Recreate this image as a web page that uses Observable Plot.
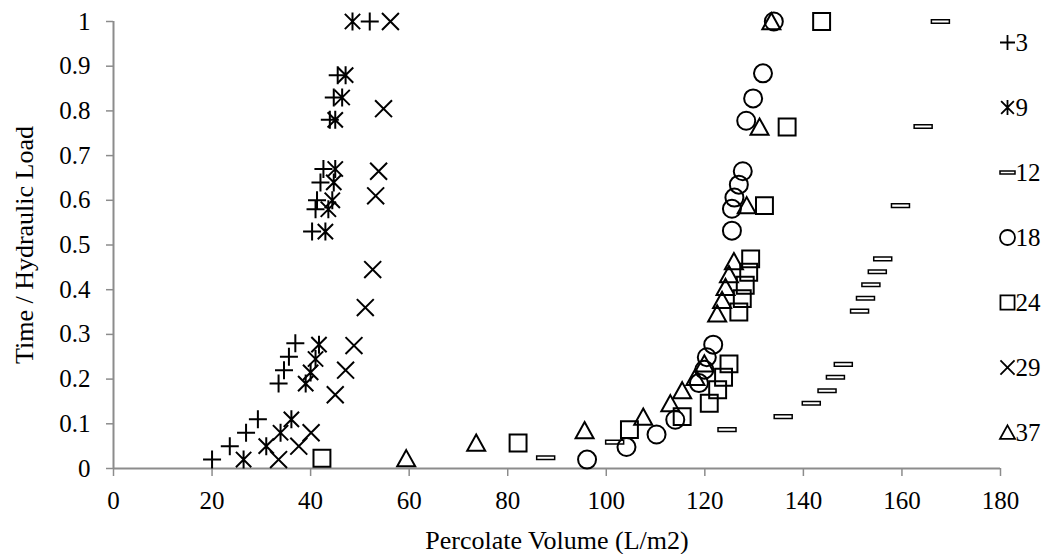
<!DOCTYPE html>
<html>
<head>
<meta charset="utf-8">
<script src="https://cdn.jsdelivr.net/npm/d3@7"></script>
<script src="https://cdn.jsdelivr.net/npm/@observablehq/plot@0.6"></script>
<style>
  html, body { margin: 0; padding: 0; background: #fff; }
  #wrap { position: relative; width: 1049px; height: 554px; }
  #legend { position: absolute; left: 990px; top: 0; }
</style>
</head>
<body>
<div id="wrap"><div id="chart"></div><div id="legend"></div></div>
<script>
// ---- data ----
const seriesNames = ["3", "9", "12", "18", "24", "29", "37"];

const s3x  = [20.0, 23.6, 26.9, 29.3, 33.5, 34.6, 35.6, 36.9, 40.3, 41.0, 41.3, 42.0, 42.6, 43.9, 44.7, 45.5, 52.0];
const s3y  = [0.02, 0.05, 0.08, 0.11, 0.19, 0.22, 0.25, 0.28, 0.53, 0.58, 0.60, 0.64, 0.67, 0.78, 0.83, 0.88, 1.0];

const s9x  = [26.4, 31.0, 33.9, 36.1, 39.0, 40.0, 41.0, 41.7, 43.0, 43.6, 44.4, 44.7, 45.0, 45.0, 46.4, 47.1, 48.5];
const s9y  = [0.02, 0.05, 0.08, 0.11, 0.19, 0.215, 0.245, 0.277, 0.53, 0.58, 0.60, 0.64, 0.67, 0.78, 0.83, 0.88, 1.0];

const s12x = [87.7, 101.7, 124.5, 135.9, 141.6, 144.8, 146.5, 148.1, 151.4, 152.6, 153.7, 155.0, 156.1, 159.7, 164.3, 167.8];
const s12y = [0.024, 0.059, 0.087, 0.116, 0.146, 0.174, 0.204, 0.233, 0.352, 0.381, 0.411, 0.44, 0.469, 0.588, 0.765, 1.0];

const s18x = [96.1, 104.1, 110.2, 114.0, 118.8, 119.9, 120.4, 121.7, 125.5, 125.5, 126.0, 126.9, 127.7, 128.4, 129.8, 131.8, 134.0];
const s18y = [0.02, 0.048, 0.076, 0.109, 0.191, 0.221, 0.249, 0.277, 0.532, 0.581, 0.606, 0.635, 0.665, 0.778, 0.828, 0.884, 1.0];

const s24x = [42.3, 82.1, 104.7, 115.4, 120.9, 122.6, 123.8, 124.9, 126.9, 127.6, 128.2, 128.9, 129.3, 132.1, 136.7, 143.7];
const s24y = [0.023, 0.057, 0.087, 0.116, 0.146, 0.176, 0.204, 0.234, 0.35, 0.38, 0.41, 0.439, 0.469, 0.588, 0.764, 1.0];

const s29x = [33.5, 37.6, 40.1, 45.0, 47.1, 48.8, 51.1, 52.6, 53.2, 53.8, 54.8, 56.2];
const s29y = [0.02, 0.05, 0.08, 0.165, 0.22, 0.275, 0.36, 0.445, 0.61, 0.665, 0.805, 1.0];

const s37x = [59.4, 73.6, 95.6, 107.5, 113.0, 115.4, 118.1, 119.9, 122.5, 123.5, 124.2, 124.9, 125.9, 128.5, 131.1, 133.5];
const s37y = [0.022, 0.057, 0.085, 0.115, 0.145, 0.174, 0.204, 0.234, 0.346, 0.376, 0.405, 0.434, 0.463, 0.588, 0.764, 1.0];

const xTicks = [0, 20, 40, 60, 80, 100, 120, 140, 160, 180];
const yTicks = [0, 0.1, 0.2, 0.3, 0.4, 0.5, 0.6, 0.7, 0.8, 0.9, 1];

const xLabel = "Percolate Volume (L/m2)";
const yLabel = "Time / Hydraulic Load";

// ---- build table ----
const seriesXY = {
  "3": [s3x, s3y], "9": [s9x, s9y], "12": [s12x, s12y], "18": [s18x, s18y],
  "24": [s24x, s24y], "29": [s29x, s29y], "37": [s37x, s37y]
};
const data = seriesNames.flatMap(name => {
  const [xs, ys] = seriesXY[name];
  return xs.map((x, i) => ({series: name, x, y: ys[i]}));
});

// ---- custom marker symbols (Excel-like) ----
const mk = f => ({draw(ctx, size) { const r = Math.sqrt(size / Math.PI); f(ctx, r); }});
const plusSym = mk((c, r) => { c.moveTo(-r, 0); c.lineTo(r, 0); c.moveTo(0, -r); c.lineTo(0, r); });
const asterSym = mk((c, r) => { const a = r * 0.85; c.moveTo(-a, -a); c.lineTo(a, a); c.moveTo(-a, a); c.lineTo(a, -a); c.moveTo(0, -r); c.lineTo(0, r); });
const dashSym = mk((c, r) => { c.rect(-r, -r * 0.2, 2 * r, r * 0.4); });
const circSym = mk((c, r) => { c.moveTo(r, 0); c.arc(0, 0, r, 0, 2 * Math.PI); });
const sqSym = mk((c, r) => { const a = r * 0.94; c.rect(-a, -a, 2 * a, 2 * a); });
const timesSym = mk((c, r) => { const a = r * 0.94; c.moveTo(-a, -a); c.lineTo(a, a); c.moveTo(-a, a); c.lineTo(a, -a); });
const triSym = mk((c, r) => { c.moveTo(0, -r * 0.95); c.lineTo(r, r * 0.85); c.lineTo(-r, r * 0.85); c.closePath(); });
const symbolRange = [plusSym, asterSym, dashSym, circSym, sqSym, timesSym, triSym];

const font = "'Liberation Serif', 'Times New Roman', serif";
const axisGray = "#8c8c8c";

const chart = Plot.plot({
  width: 1049,
  height: 554,
  marginLeft: 113,
  marginRight: 49,
  marginTop: 21,
  marginBottom: 86,
  style: {fontFamily: font, fontSize: "25px", color: "#000", background: "#fff"},
  x: {domain: [0, 180]},
  y: {domain: [0, 1]},
  symbol: {domain: seriesNames, range: symbolRange},
  marks: [
    Plot.axisY({
      ticks: yTicks, tickSize: 7, tickPadding: 16, tickFormat: d => String(d),
      stroke: axisGray, fill: "#000", strokeWidth: 1.5, label: null
    }),
    Plot.axisX({
      ticks: xTicks, tickSize: 8, tickPadding: 15, tickFormat: d => String(d),
      stroke: axisGray, fill: "#000", strokeWidth: 1.5, label: null
    }),
    Plot.text([yLabel], {
      text: d => d, frameAnchor: "left", rotate: -90, lineAnchor: "top",
      textAnchor: "middle", dx: -99, fontSize: 26, fill: "#000"
    }),
    Plot.text([xLabel], {
      text: d => d, frameAnchor: "bottom", lineAnchor: "bottom",
      textAnchor: "middle", dy: 80, fontSize: 26, fill: "#000"
    }),
    Plot.ruleX([0], {stroke: axisGray, strokeWidth: 2}),
    Plot.ruleY([0], {stroke: axisGray, strokeWidth: 2}),
    Plot.dot(data, {
      x: "x", y: "y", symbol: "series", r: 9,
      stroke: "#000", fill: "none",
      strokeWidth: d => d.series === "12" ? 1.5 : 2
    })
  ]
});
document.getElementById("chart").appendChild(chart);

const legend = Plot.plot({
  width: 59,
  height: 554,
  margin: 0,
  style: {fontFamily: font, fontSize: "25px", color: "#000", background: "transparent"},
  x: {axis: null, domain: [0, 1]},
  y: {type: "point", domain: seriesNames, range: [42, 432], padding: 0, axis: null},
  symbol: {domain: seriesNames, range: symbolRange},
  marks: [
    Plot.dot(seriesNames, {
      y: d => d, symbol: d => d, frameAnchor: "left", dx: 17, r: 7.5,
      stroke: "#000", fill: "none", strokeWidth: d => d === "12" ? 1.5 : 1.8
    }),
    Plot.text(seriesNames, {
      y: d => d, text: d => d, frameAnchor: "left", dx: 25,
      textAnchor: "start", fill: "#000", fontSize: 25
    })
  ]
});
document.getElementById("legend").appendChild(legend);
</script>
</body>
</html>
